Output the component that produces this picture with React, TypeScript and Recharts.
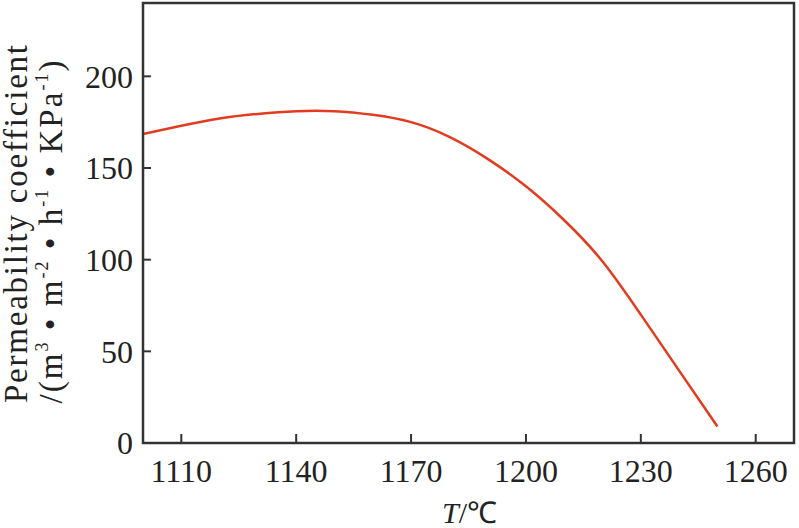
import React from 'react';
import { LineChart, Line, XAxis, YAxis } from 'recharts';

const temperatures = [1100, 1110, 1120, 1130, 1140, 1150, 1160, 1170, 1180, 1190, 1200, 1210, 1220, 1230, 1240, 1250];
const permeability = [168.5, 173, 177, 179.5, 181, 181, 179, 175, 167, 155, 140, 121.5, 99, 70, 39.5, 9];
const xTicks = [1110, 1140, 1170, 1200, 1230, 1260];
const yTicks = [0, 50, 100, 150, 200];

const data = temperatures.map((t, i) => ({ t, k: permeability[i] }));

const FONT = '"Liberation Serif", "Times New Roman", serif';
const AXIS = '#333';
const CHART_W = 799;
const CHART_H = 528;
const MARGIN = { top: 3, right: 5, left: 0, bottom: 0 };

const YTitle = (props: any) => {
  const vb = props.viewBox || { x: 0, y: 3, width: 143, height: 440 };
  const cy = vb.y + vb.height / 2;
  const c1 = cy + 1;
  const c2 = cy + 9;
  const plotLeft = vb.x + vb.width;
  const plotRight = CHART_W - MARGIN.right;
  const plotTop = vb.y;
  const plotBottom = vb.y + vb.height;
  return (
    <g>
      <rect
        x={plotLeft}
        y={plotTop}
        width={plotRight - plotLeft}
        height={plotBottom - plotTop}
        fill="none"
        stroke={AXIS}
        strokeWidth={2.5}
      />
      <g fontFamily={FONT} fill="#222">
        <text x={27} y={c1} transform={`rotate(-90, 27, ${c1})`} textAnchor="middle" fontSize={33} textLength={358} lengthAdjust="spacing">
          Permeability coefficient
        </text>
        <text x={62} y={c2} transform={`rotate(-90, 62, ${c2})`} textAnchor="middle" fontSize={33} textLength={343} lengthAdjust="spacing">
          /(m<tspan fontSize={18} dy={-14}>3</tspan><tspan dy={14}> • m</tspan><tspan fontSize={18} dy={-14}>-2</tspan><tspan dy={14}> • h</tspan><tspan fontSize={18} dy={-14}>-1</tspan><tspan dy={14}> • KPa</tspan><tspan fontSize={18} dy={-14}>-1</tspan><tspan dy={14}>)</tspan>
        </text>
      </g>
    </g>
  );
};

const XTitle = (props: any) => {
  const vb = props.viewBox || { x: 143, y: 443, width: 651, height: 85 };
  const cx = vb.x + vb.width / 2 + 1;
  return (
    <text x={cx} y={523} textAnchor="middle" fontFamily={FONT} fontSize={30} fill="#222">
      <tspan fontStyle="italic">T</tspan>/℃
    </text>
  );
};

export default function App() {
  return (
    <div style={{ position: 'absolute', left: 0, top: 0, width: CHART_W, height: CHART_H, background: '#fff' }}>
      <LineChart width={CHART_W} height={CHART_H} data={data} margin={MARGIN}>
        <XAxis
          dataKey="t"
          type="number"
          domain={[1100, 1270]}
          ticks={xTicks}
          allowDataOverflow
          height={85}
          tickSize={-9}
          tickMargin={25}
          stroke={AXIS}
          strokeWidth={2}
          tick={{ fontFamily: FONT, fontSize: 32, fill: '#222' }}
          label={<XTitle />}
        />
        <YAxis
          domain={[0, 240]}
          ticks={yTicks}
          allowDataOverflow
          width={143}
          tickSize={-8}
          tickMargin={18}
          stroke={AXIS}
          strokeWidth={2}
          tick={{ fontFamily: FONT, fontSize: 32, fill: '#222' }}
          label={<YTitle />}
        />
        <Line type="natural" dataKey="k" stroke="#e23b1f" strokeWidth={2.5} dot={false} isAnimationActive={false} />
      </LineChart>
    </div>
  );
}
